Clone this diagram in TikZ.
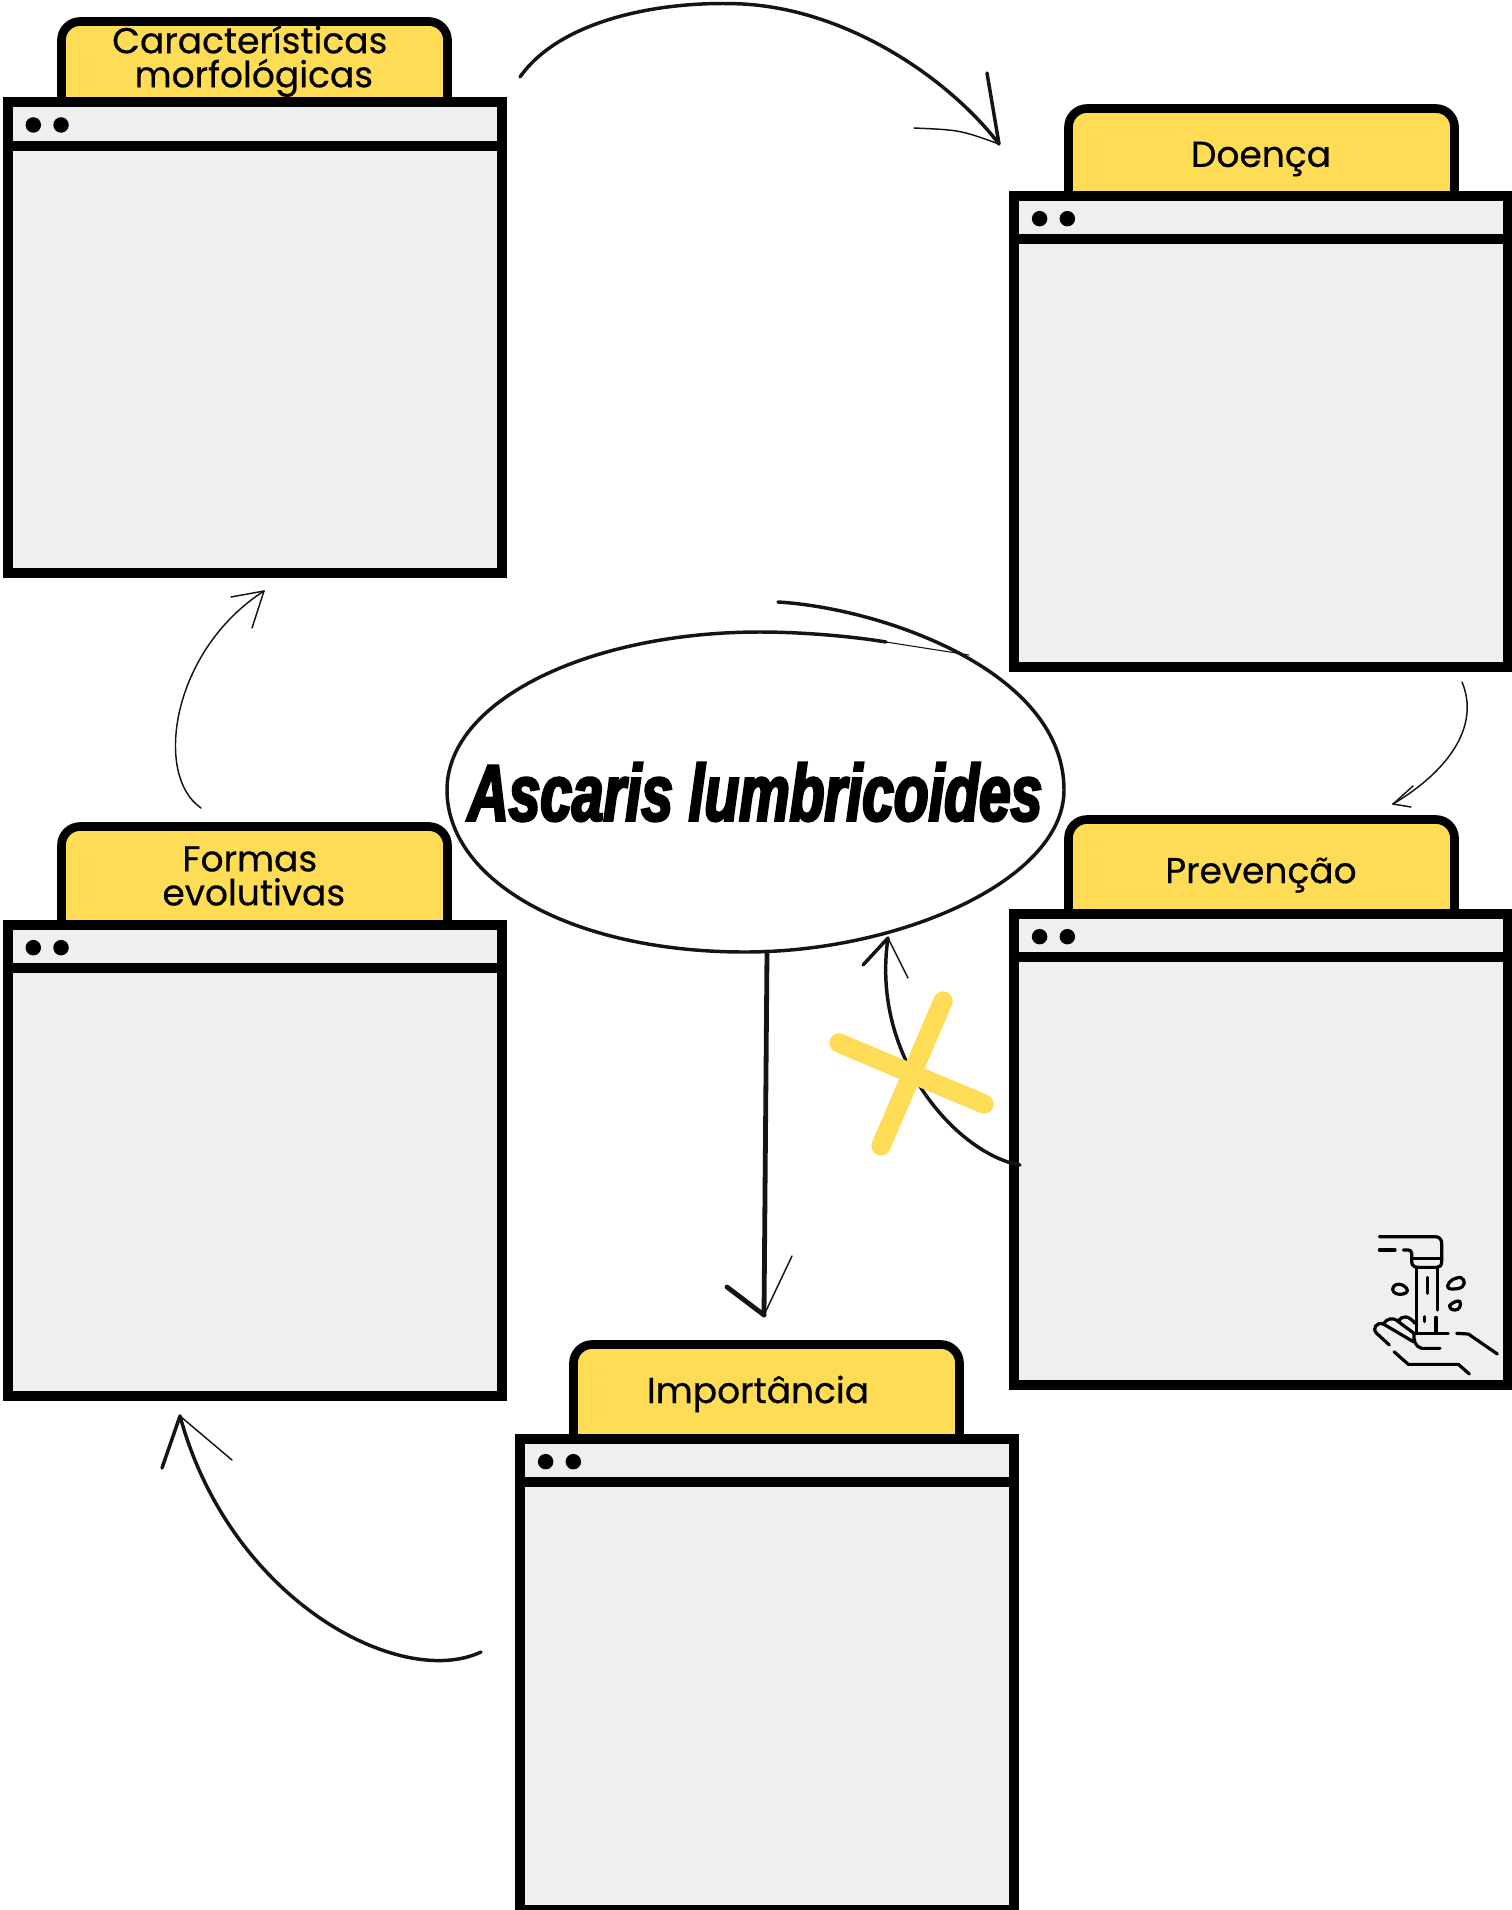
\documentclass[tikz,border=0pt]{standalone}
\usepackage{fontspec}
\setmainfont[FakeBold=0.5]{Poppins}
\newfontfamily\fonttitulo[FakeStretch=0.71,FakeBold=3.2]{Liberation Sans}
\definecolor{amarelo}{HTML}{FEDC56}
\definecolor{cinza}{HTML}{EEEFF1}
\tikzset{
  janela/.style={draw=black,fill=cinza,line width=7.5pt,outer sep=0pt,anchor=north west,minimum width=370.5pt,minimum height=353pt},
  aba/.style={draw=black,fill=amarelo,line width=6.5pt,rounded corners=14pt},
  barra/.style={draw=black,line width=7.5pt},
  ponto/.style={fill=black},
  rotulo/.style={font=\fontsize{27}{25.5}\selectfont,align=center,inner sep=0pt},
  traco/.style={draw=black!92,line cap=round,line join=round},
  fino/.style={traco,line width=1.1pt},
  medio/.style={traco,line width=2.6pt},
  grosso/.style={traco,line width=3.6pt},
  icone/.style={draw=black,line width=2.4pt,line cap=round,line join=round}
}
\begin{document}
\begin{tikzpicture}[x=0.75pt,y=-0.75pt]
\useasboundingbox (0,0) rectangle (1511,1910);

% janelas
\filldraw[aba] (61.5,150) -- (61.5,21.5) -- (447.5,21.5) -- (447.5,150) -- cycle;
\node[janela] (jMorfo) at (7.7,102.3) {};
\draw[barra] ([yshift=-32.5pt]jMorfo.north west) -- ([yshift=-32.5pt]jMorfo.north east);
\fill[ponto] ([xshift=19.2pt,yshift=-17pt]jMorfo.north west) circle (5.8pt);
\fill[ponto] ([xshift=40pt,yshift=-17pt]jMorfo.north west) circle (5.8pt);
\node[rotulo] (tMorfo) at (252.5,61) {Características\kern4pt\\\kern2pt morfológicas};

\filldraw[aba] (1068.5,240) -- (1068.5,108.5) -- (1454.5,108.5) -- (1454.5,240) -- cycle;
\node[janela] (jDoenca) at (1014,196) {};
\draw[barra] ([yshift=-32.5pt]jDoenca.north west) -- ([yshift=-32.5pt]jDoenca.north east);
\fill[ponto] ([xshift=19.2pt,yshift=-17pt]jDoenca.north west) circle (5.8pt);
\fill[ponto] ([xshift=40pt,yshift=-17pt]jDoenca.north west) circle (5.8pt);
\node[rotulo] (tDoenca) at (1261,159) {Doença};

\filldraw[aba] (1068.5,960) -- (1068.5,819.5) -- (1454.5,819.5) -- (1454.5,960) -- cycle;
\node[janela] (jPrevencao) at (1014,914) {};
\draw[barra] ([yshift=-32.5pt]jPrevencao.north west) -- ([yshift=-32.5pt]jPrevencao.north east);
\fill[ponto] ([xshift=19.2pt,yshift=-17pt]jPrevencao.north west) circle (5.8pt);
\fill[ponto] ([xshift=40pt,yshift=-17pt]jPrevencao.north west) circle (5.8pt);
\node[rotulo] (tPrevencao) at (1261,875) {Prevenção};

\filldraw[aba] (61.5,970) -- (61.5,826.5) -- (447.5,826.5) -- (447.5,970) -- cycle;
\node[janela] (jFormas) at (7.7,925) {};
\draw[barra] ([yshift=-32.5pt]jFormas.north west) -- ([yshift=-32.5pt]jFormas.north east);
\fill[ponto] ([xshift=19.2pt,yshift=-17pt]jFormas.north west) circle (5.8pt);
\fill[ponto] ([xshift=40pt,yshift=-17pt]jFormas.north west) circle (5.8pt);
\node[rotulo] (tFormas) at (252.5,876) {Formas\kern4pt\\\kern2pt evolutivas};

\filldraw[aba] (573.5,1485) -- (573.5,1344.5) -- (959.5,1344.5) -- (959.5,1485) -- cycle;
\node[janela] (jImportancia) at (520,1439) {};
\draw[barra] ([yshift=-32.5pt]jImportancia.north west) -- ([yshift=-32.5pt]jImportancia.north east);
\fill[ponto] ([xshift=19.2pt,yshift=-17pt]jImportancia.north west) circle (5.8pt);
\fill[ponto] ([xshift=40pt,yshift=-17pt]jImportancia.north west) circle (5.8pt);
\node[rotulo] (tImportancia) at (758,1394) {Importância};

% elipse central
\draw[medio] (778,602) .. controls (880,608) and (1064,670) .. (1064,790) .. controls (1064,880) and (900,952) .. (745,952) .. controls (570,952) and (447,880) .. (447,790) .. controls (447,700) and (590,632) .. (760,632) .. controls (800,632) and (850,636) .. (886,642);
\draw[fino,line width=0.8pt] (886,642) -- (969,655);
\node[inner sep=0pt,font=\fonttitulo\fontsize{60}{60}\selectfont\bfseries\itshape] (titulo) at (755,792) {Ascaris lumbricoides};

% setas
\coordinate (s1a) at (520,77);
\coordinate (s1b) at (999,144);
\draw[medio] (s1a) .. controls (560,20) and (660,0) .. (743,4) .. controls (850,10) and (950,80) .. (s1b);
\draw[medio] (s1b) -- (987,73);
\draw[fino] (s1b) .. controls (960,130) .. (914,128);

\coordinate (s2a) at (1462,682);
\coordinate (s2b) at (1393,804);
\draw[fino] (s2a) .. controls (1480,725) and (1450,770) .. (s2b);
\draw[fino] (s2b) -- (1413,786);
\draw[fino] (s2b) -- (1411,807);

\coordinate (s3a) at (1020,1165);
\coordinate (s3b) at (888,938);
\draw[medio] (s3a) .. controls (960,1155) and (870,1060) .. (s3b);
\draw[medio] (s3b) -- (863,965);
\draw[fino] (s3b) -- (908,978);

\coordinate (s4a) at (767,952);
\coordinate (s4b) at (764,1315);
\draw[grosso] (s4a) -- (s4b);
\draw[grosso] (s4b) -- (727,1287);
\draw[fino] (s4b) -- (792,1256);

\coordinate (s5a) at (481,1652);
\coordinate (s5b) at (180,1416);
\draw[medio] (s5a) .. controls (400,1690) and (230,1600) .. (s5b);
\draw[medio] (s5b) -- (162,1468);
\draw[fino] (s5b) -- (232,1460);

\coordinate (s6a) at (201,808);
\coordinate (s6b) at (264,591);
\draw[fino] (s6a) .. controls (153,775) and (172,650) .. (s6b);
\draw[fino] (s6b) -- (231,597);
\draw[fino] (s6b) -- (252,628);

% X amarelo
\draw[amarelo,line width=14.5pt,line cap=round] (839,1043) -- (984,1104);
\draw[amarelo,line width=14.5pt,line cap=round] (943,1001) -- (881,1146);

% torneira e mao
\begin{scope}[shift={(1340,1200)},x=0.25pt,y=-0.25pt]
\draw[icone] (118,110) -- (285,110) .. controls (298,110) and (305,118) .. (305,130) -- (305,185) .. controls (305,198) and (298,202) .. (290,202) -- (235,202) .. controls (222,202) and (215,195) .. (215,185) -- (215,160) .. controls (215,153) and (210,150) .. (205,150) -- (190,150);
\draw[icone] (118,150) -- (165,150);
\draw[icone] (215,176) -- (305,176);
\draw[icone] (230,205) -- (230,395);
\draw[icone] (292,205) -- (292,330);
\draw[icone] (262,232) -- (262,280);
\draw[icone] (288,352) -- (288,398);
\draw[icone] (254,350) -- (254,365);
\draw[icone] (158,268) .. controls (160,245) and (195,250) .. (202,270) .. controls (205,285) and (160,290) .. (158,268) -- cycle;
\draw[icone] (323,258) .. controls (325,240) and (350,232) .. (362,232) .. controls (378,240) and (378,262) .. (352,266) .. controls (335,268) and (322,268) .. (323,258) -- cycle;
\draw[icone] (328,317) .. controls (340,305) and (355,300) .. (360,305) .. controls (365,320) and (355,330) .. (345,330) .. controls (335,330) and (328,325) .. (328,317) -- cycle;
\draw[icone] (222,400) -- (325,400);
\draw[icone] (350,400) -- (385,402) -- (472,462);
\draw[icone] (300,445) -- (245,445) .. controls (225,440) and (220,420) .. (222,400);
\draw[icone] (148,435) -- (110,400) .. controls (95,385) and (110,365) .. (130,372) -- (220,425);
\draw[icone] (130,372) .. controls (140,355) and (160,350) .. (175,365) -- (222,400);
\draw[icone] (175,365) .. controls (185,345) and (205,345) .. (225,370);
\draw[icone] (162,455) -- (205,493) -- (355,493) -- (388,522);
\end{scope}
\end{tikzpicture}
\end{document}
